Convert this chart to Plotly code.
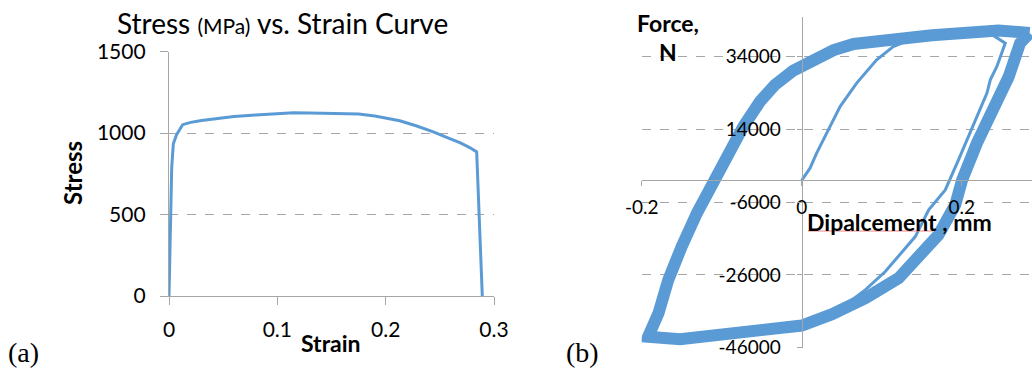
import plotly.graph_objects as go

W, H = 1032, 368
BLUE = "#5B9BD5"
GRID = "#A6A6A6"
FONT = "Lato"

# ---------- (a) stress-strain data ----------
strain = [0, 0.0015, 0.0025, 0.004, 0.007, 0.0126, 0.02, 0.03, 0.045, 0.06, 0.08, 0.1,
          0.115, 0.13, 0.15, 0.165, 0.175, 0.19, 0.2, 0.213, 0.228, 0.244, 0.258,
          0.269, 0.278, 0.284, 0.2892]
stress = [0, 500, 790, 935, 990, 1052, 1066, 1078, 1092, 1102, 1112, 1120,
          1125, 1124, 1121, 1121, 1117, 1105, 1094, 1076, 1045, 1008, 970,
          940, 910, 885, 0]
a_xticks = [0, 0.1, 0.2, 0.3]
a_xticklabels = ["0", "0.1", "0.2", "0.3"]
a_yticks = [0, 500, 1000, 1500]

# ---------- (b) hysteresis data ----------
# first loading + first unloading (thin line)
first_disp = [0, 0.0104, 0.0187, 0.031, 0.048, 0.0687, 0.0937, 0.1145, 0.135, 0.17, 0.2,
              0.238, 0.2545, 0.244, 0.2358, 0.2316, 0.221, 0.2108, 0.196, 0.1795,
              0.1588, 0.142, 0.121, 0.1045, 0.0795, 0.0545, 0.045]
first_force = [0, 3350, 7480, 12970, 20290, 26720, 33120, 36780, 38600, 39600, 40000,
               40000, 37720, 31290, 27630, 23970, 18470, 12970, 5640, -2610,
               -8110, -15450, -20950, -25070, -30100, -34230, -35200]
# stabilised cycles (thick band)
loop_disp = [0.285, 0.246, 0.163, 0.092, 0.065, 0.04, 0.0187, 0.0, -0.0105, -0.0334,
             -0.0521, -0.073, -0.0917, -0.1085, -0.131, -0.150, -0.1667, -0.179, -0.192,
             -0.152, -0.0896, 0.0, 0.038, 0.0795, 0.121, 0.146, 0.171, 0.192, 0.2004,
             0.219, 0.238, 0.2588, 0.273, 0.285]
loop_force = [40500, 41200, 39900, 38600, 37500, 35800, 33130, 31120, 30180, 26250,
              21660, 14790, 7480, 0, -9000, -18200, -27300, -36500, -43000,
              -43700, -42000, -39900, -36800, -32400, -26900, -21400, -15000, -6700, 0,
              10200, 19400, 28500, 37700, 40500]
b_xticks = [-0.2, 0, 0.2]
b_xticklabels = ["-0.2", "0", "0.2"]
b_yticks = [34000, 14000, -6000, -26000, -46000]
b_yticklabels = ["34000", "14000", "-6000", "-26000", "-46000"]

# ---------- layout geometry ----------
a_xdom = [169 / W, 494 / W]
a_ydom = [1 - 296 / H, 1 - 51.7 / H]
b_xdom = [641.7 / W, 1.0]
b_ydom = [1 - 347.7 / H, 1 - 17 / H]
b_xrange = [-0.2, 0.2879]
b_yrange = [-46000, 44900]

# crossing positions for panel (b) axes
b_xpos_paper = b_ydom[0] + (0 - b_yrange[0]) / (b_yrange[1] - b_yrange[0]) * (b_ydom[1] - b_ydom[0])
b_ypos_paper = b_xdom[0] + (0 - b_xrange[0]) / (b_xrange[1] - b_xrange[0]) * (b_xdom[1] - b_xdom[0])

fig = go.Figure()
fig.add_trace(go.Scatter(x=strain, y=stress, mode="lines",
                         line=dict(color=BLUE, width=3), xaxis="x", yaxis="y",
                         showlegend=False, hoverinfo="skip"))
fig.add_trace(go.Scatter(x=loop_disp, y=loop_force, mode="lines",
                         line=dict(color=BLUE, width=12), xaxis="x2", yaxis="y2",
                         showlegend=False, hoverinfo="skip"))
fig.add_trace(go.Scatter(x=first_disp, y=first_force, mode="lines",
                         line=dict(color=BLUE, width=3), xaxis="x2", yaxis="y2",
                         showlegend=False, hoverinfo="skip"))

tickfont_a = dict(family=FONT, size=21, color="black")
tickfont_b = dict(family=FONT, size=19, color="black")

fig.update_layout(
    width=W, height=H, margin=dict(l=0, r=0, t=0, b=0, autoexpand=False),
    paper_bgcolor="white", plot_bgcolor="white",
    xaxis=dict(domain=a_xdom, range=[0, 0.3], anchor="y", automargin=False,
               tickvals=a_xticks, ticktext=a_xticklabels, tickfont=tickfont_a,
               showline=True, linecolor=GRID, linewidth=1.3,
               ticks="outside", ticklen=8, tickcolor=GRID, tickwidth=1.3,
               ticklabelstandoff=7,
               showgrid=False, zeroline=False),
    yaxis=dict(domain=a_ydom, range=[0, 1500], anchor="x", automargin=False,
               tickvals=a_yticks, tickfont=tickfont_a,
               showline=True, linecolor=GRID, linewidth=1.3,
               ticks="outside", ticklen=8, tickcolor=GRID, tickwidth=1.3,
               ticklabelstandoff=10,
               showgrid=True, gridcolor=GRID, griddash="dash", gridwidth=1.3,
               zeroline=False),
    xaxis2=dict(domain=b_xdom, range=b_xrange, anchor="free", position=b_xpos_paper,
                automargin=False,
                tickvals=b_xticks, ticktext=b_xticklabels, tickfont=tickfont_b,
                showline=True, linecolor=GRID, linewidth=1.3,
                ticks="outside", ticklen=5, tickcolor=GRID, tickwidth=1.3,
                ticklabelstandoff=5,
                showgrid=False, zeroline=False),
    yaxis2=dict(domain=b_ydom, range=b_yrange, anchor="free", position=b_ypos_paper,
                automargin=False,
                tickvals=b_yticks, ticktext=b_yticklabels, tickfont=tickfont_b,
                showline=True, linecolor=GRID, linewidth=1.3,
                ticks="outside", ticklen=5, tickcolor=GRID, tickwidth=1.3,
                ticklabelstandoff=12,
                showgrid=True, gridcolor=GRID, griddash="dash", gridwidth=1.3,
                zeroline=False),
)

def ann(text, px, py, size, bold=False, family=FONT, angle=0):
    fig.add_annotation(text=f"<b>{text}</b>" if bold else text,
                       x=px / W, y=1 - py / H, xref="paper", yref="paper",
                       xanchor="center", yanchor="middle", showarrow=False,
                       textangle=angle, font=dict(family=family, size=size, color="black"))

ann("Stress <span style='font-size:21px'>(MPa)</span> vs. Strain Curve", 282, 23, 28)
ann("Stress", 73, 173, 24, bold=True, angle=-90)
ann("Strain", 331, 343, 23, bold=True)
ann("(a)", 23, 352, 28, family="Liberation Serif")
ann("(b)", 582, 352, 28, family="Liberation Serif")
ann("Force,", 668, 23, 23, bold=True)
ann("N", 668, 52, 23, bold=True)
ann("Dipalcement , mm", 899, 222, 23, bold=True)
# spell-check style underline below "Dipalcement"
fig.add_shape(type="line", xref="paper", yref="paper",
              x0=808 / W, x1=933 / W, y0=1 - 231 / H, y1=1 - 231 / H,
              line=dict(color="#F08080", width=1))

fig.write_html("out.html", config={"displayModeBar": False},
               post_script="document.body.style.margin='0';document.body.style.overflow='hidden';")
